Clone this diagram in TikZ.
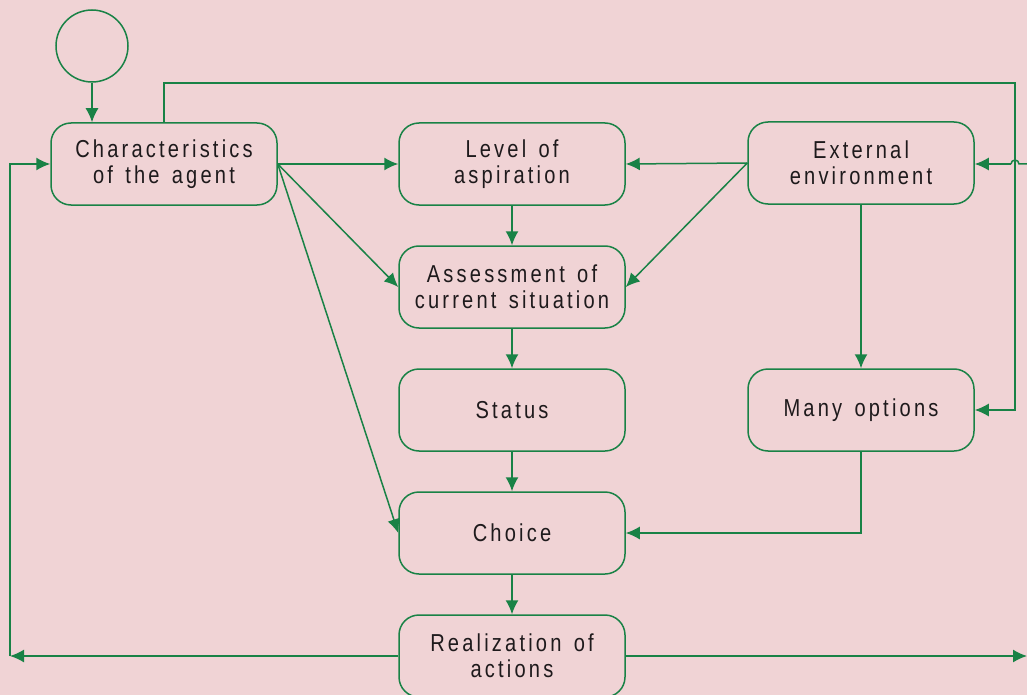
\documentclass[tikz,border=0pt]{standalone}
\usepackage{fontspec}
\setmainfont{Liberation Sans}[FakeStretch=0.82,LetterSpace=13,WordSpace=1.4]
\usetikzlibrary{arrows.meta}
\definecolor{bgpink}{RGB}{240,211,213}
\definecolor{lngreen}{RGB}{25,130,70}
\definecolor{txtdark}{RGB}{30,26,28}
\tikzset{
  box/.style={draw=lngreen,line width=1.5pt,rounded corners=20pt,minimum width=226pt,minimum height=82pt,inner sep=0pt,align=center,text=txtdark,font=\fontsize{24.5pt}{26pt}\selectfont},
  arr/.style={draw=lngreen,line width=1.5pt,-{Latex[length=14pt,width=13pt]}},
  ln/.style={draw=lngreen,line width=1.5pt}
}
\begin{document}
\begin{tikzpicture}[x=1pt,y=-1pt]
\fill[bgpink] (0,0) rectangle (1027,695);
\useasboundingbox (0,0) rectangle (1027,695);
\node[draw=lngreen,line width=1.5pt,circle,minimum size=72pt,inner sep=0pt] (start) at (92,46) {};
\node[box] (char) at (164,164) {Characteristics\\of the agent};
\node[box] (level) at (512,164) {Level of\\aspiration};
\node[box] (assess) at (512,287) {Assessment of\\current situation};
\node[box] (status) at (512,410) {Status};
\node[box] (choice) at (512,533) {Choice};
\node[box] (real) at (512,656) {Realization of\\actions};
\node[box] (ext) at (861,163) {External\\environment};
\node[box] (many) at (861,410) {Many options};
\coordinate (cTR) at (1015,83);
\coordinate (rIn) at (1030,164);
\coordinate (rOut) at (1027,656);
\coordinate (lC) at (10,656);
% arrows
\draw[arr] (start.south) -- (start.south |- char.north);
\draw[arr] (char.north) |- (cTR) |- (many.east);
\draw[ln] (rIn) -- (1019,164) arc[start angle=0,end angle=180,radius=4pt];
\draw[arr] (1011,164) -- (ext.east |- 0,164);
\draw[arr] (char.east) -- (level.west);
\draw[arr] (char.east) -- (assess.west);
\draw[arr] (char.east) -- (choice.west);
\draw[arr] (level.south) -- (assess.north);
\draw[arr] (assess.south) -- (status.north);
\draw[arr] (status.south) -- (choice.north);
\draw[arr] (choice.south) -- (real.north);
\draw[arr] (ext.west) -- (level.east);
\draw[arr] (ext.west) -- (assess.east);
\draw[arr] (ext.south) -- (many.north);
\draw[arr] (many.south) |- (choice.east);
\draw[arr] (real.east) -- (rOut);
\draw[arr] (real.west) -- (lC);
\draw[arr] (lC) |- (char.west);
\end{tikzpicture}
\end{document}
